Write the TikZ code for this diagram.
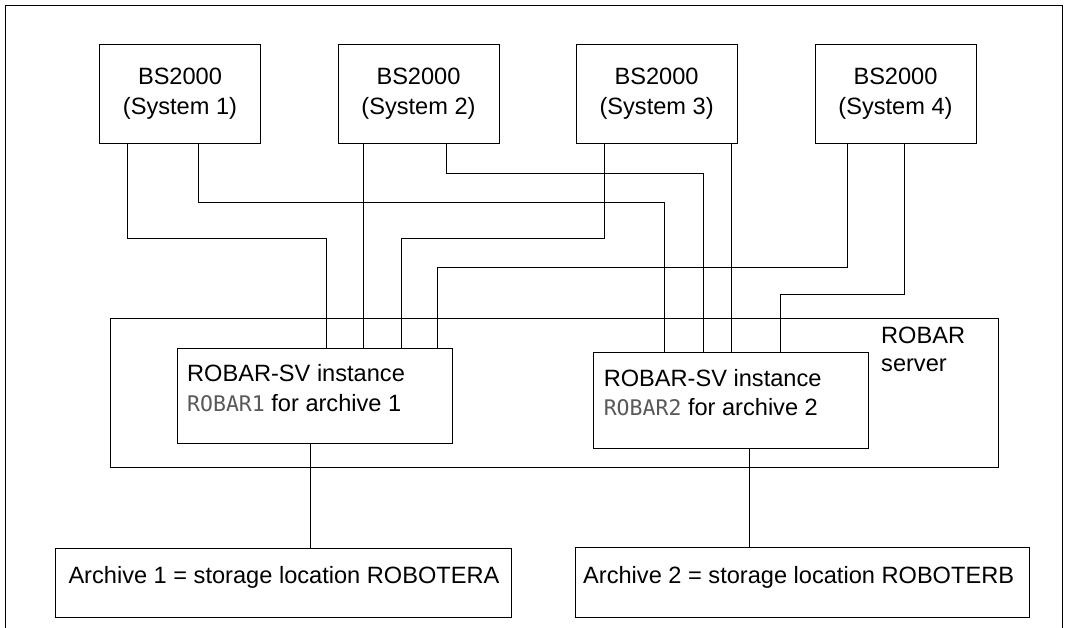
\documentclass[tikz,border=0pt]{standalone}
\usepackage{fontspec}
\setmainfont{Liberation Sans}
\newfontfamily\monofont{DejaVu Sans Mono}
\definecolor{monogray}{gray}{0.35}
\begin{document}
\begin{tikzpicture}[x=1pt,y=-1pt,line width=1pt,
  box/.style={draw,line width=1pt,rectangle,inner sep=0pt,anchor=north west},
  sysbox/.style={box,minimum width=161pt,minimum height=99.3pt,align=center,
    font=\fontsize{23.6}{30}\selectfont},
  txt/.style={inner sep=0pt,anchor=base west,font=\fontsize{23.6}{30}\selectfont},
  wire/.style={line width=1pt}]
\useasboundingbox (0,0) rectangle (1066,628);
% outer frame
\coordinate (fbl) at (5.2,628);
\coordinate (ftl) at (5.2,5.2);
\coordinate (ftr) at (1062.7,5.2);
\coordinate (fbr) at (1062.7,628);
\draw[wire] (fbl) -- (ftl) -- (ftr) -- (fbr);
% BS2000 systems
\node[sysbox] (s1) at (99,43.7) {BS2000\\(System 1)};
\node[sysbox] (s2) at (337.5,43.7) {BS2000\\(System 2)};
\node[sysbox] (s3) at (575.6,43.7) {BS2000\\(System 3)};
\node[sysbox] (s4) at (814.5,43.7) {BS2000\\(System 4)};
% ROBAR server
\node[box,minimum width=888pt,minimum height=148.7pt] (srv) at (110.3,318.3) {};
\node[txt] (srvA) at (880.7,343.3) {ROBAR};
\node[txt] (srvB) at (880.7,371.7) {server};
% instances
\node[box,fill=white,minimum width=275.3pt,minimum height=95pt] (i1) at (177,348) {};
\node[box,fill=white,minimum width=275.3pt,minimum height=96pt] (i2) at (593,352) {};
\node[txt] (i1a) at (186.7,381.7) {ROBAR-SV instance};
\node[txt] (i1b) at (186.7,411) {{\monofont\fontsize{21.5}{30}\selectfont\color{monogray}ROBAR1} for archive 1};
\node[txt] (i2a) at (603.3,387) {ROBAR-SV instance};
\node[txt] (i2b) at (603.3,415.7) {{\monofont\fontsize{21.5}{30}\selectfont\color{monogray}ROBAR2} for archive 2};
% archives
\node[box,minimum width=456pt,minimum height=69pt] (a1) at (55,548) {};
\node[box,minimum width=454pt,minimum height=70pt] (a2) at (575,547) {};
\node[txt] (a1t) at (68,583.3) {Archive 1 = storage location ROBOTERA};
\node[txt] (a2t) at (582.7,583) {Archive 2 = storage location ROBOTERB};
% bend points
\coordinate (c11) at (326.7,238.6);
\coordinate (c12) at (664.3,202.8);
\coordinate (c22) at (703.3,173.9);
\coordinate (c31) at (401.7,238.6);
\coordinate (c41) at (437.3,267.6);
\coordinate (c42) at (780.3,294.1);
% connectors
\draw[wire] (127.4,0 |- s1.south) |- (c11) -- (c11 |- i1.north);
\draw[wire] (198.3,0 |- s1.south) |- (c12) -- (c12 |- i2.north);
\draw[wire] (363.3,0 |- s2.south) -- (363.3,0 |- i1.north);
\draw[wire] (446.3,0 |- s2.south) |- (c22) -- (c22 |- i2.north);
\draw[wire] (604.5,0 |- s3.south) |- (c31) -- (c31 |- i1.north);
\draw[wire] (731.8,0 |- s3.south) -- (731.8,0 |- i2.north);
\draw[wire] (847.4,0 |- s4.south) |- (c41) -- (c41 |- i1.north);
\draw[wire] (904.4,0 |- s4.south) |- (c42) -- (c42 |- i2.north);
\draw[wire] (310.4,0 |- i1.south) -- (310.4,0 |- a1.north);
\draw[wire] (749.4,0 |- i2.south) -- (749.4,0 |- a2.north);
\end{tikzpicture}
\end{document}
